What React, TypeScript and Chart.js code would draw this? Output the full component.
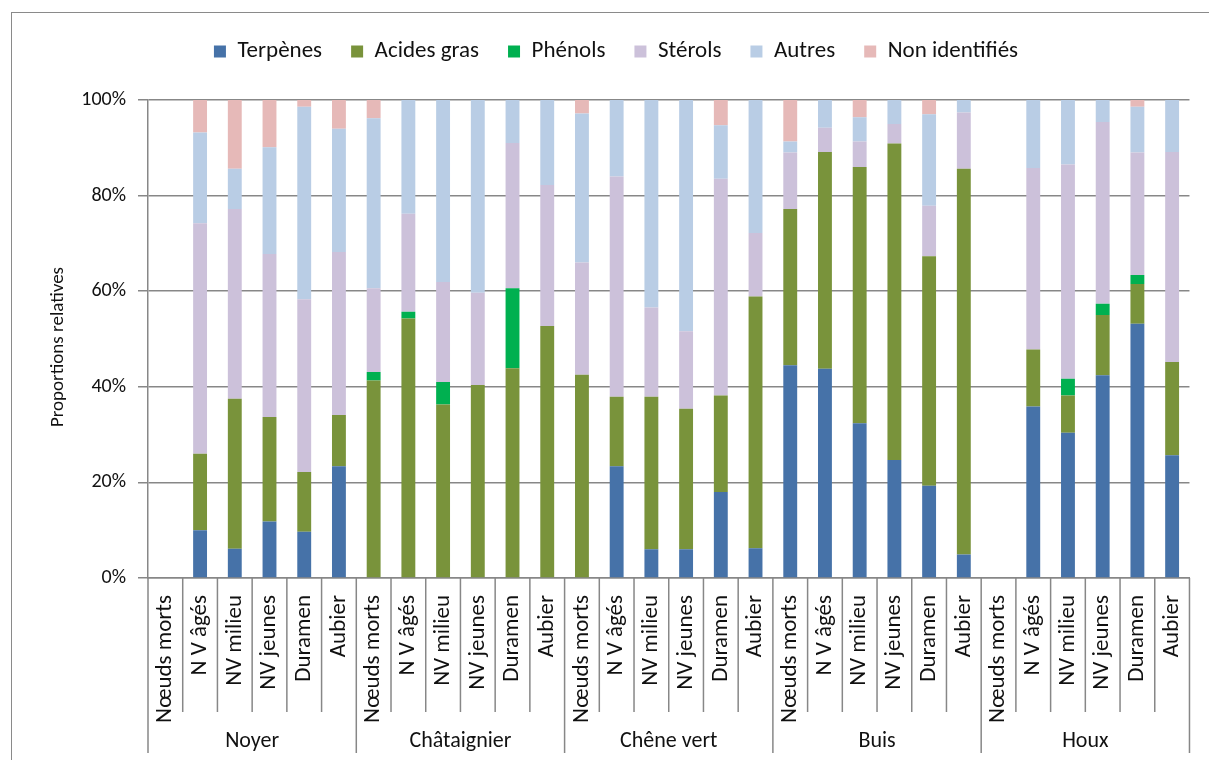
import React, { useEffect, useRef } from "react";
import { Chart, registerables } from "chart.js";

Chart.register(...registerables);

const groups = ["Noyer", "Châtaignier", "Chêne vert", "Buis", "Houx"];
const zones = ["Nœuds morts", "N V âgés", "NV milieu", "NV jeunes", "Duramen", "Aubier"];

const terpenes = [0, 10, 6.1, 11.8, 9.7, 23.4, 0, 0, 0, 0, 0, 0, 0, 23.4, 6.0, 6.0, 18.0, 6.2, 44.5, 43.8, 32.4, 24.7, 19.3, 4.9, 0, 35.9, 30.4, 42.4, 53.2, 25.7];
const acidesGras = [0, 16, 31.4, 21.9, 12.5, 10.7, 41.3, 54.3, 36.3, 40.4, 43.9, 52.7, 42.5, 14.5, 31.9, 29.4, 20.2, 52.7, 32.7, 45.3, 53.6, 66.2, 48.0, 80.7, 0, 11.9, 7.8, 12.6, 8.3, 19.5];
const phenols = [0, 0, 0, 0, 0, 0, 1.8, 1.4, 4.7, 0, 16.7, 0, 0, 0, 0, 0, 0, 0, 0, 0, 0, 0, 0, 0, 0, 0, 3.5, 2.4, 1.9, 0];
const sterols = [0, 48.2, 39.7, 34.1, 36.1, 34.1, 17.5, 20.5, 20.9, 19.3, 30.4, 29.5, 23.5, 46.1, 18.7, 16.2, 45.3, 13.3, 11.8, 5.1, 5.3, 4.1, 10.6, 11.8, 0, 38.0, 44.8, 38.0, 25.6, 43.9];
const autres = [0, 19, 8.4, 22.3, 40.3, 25.8, 35.6, 23.8, 38.1, 40.3, 9.0, 17.8, 31.2, 16.0, 43.4, 48.4, 11.2, 27.8, 2.3, 5.8, 5.1, 5.0, 19.1, 2.6, 0, 14.2, 13.5, 4.6, 9.6, 10.9];
const nonIdentifies = [0, 6.8, 14.4, 9.9, 1.4, 6, 3.8, 0, 0, 0, 0, 0, 2.8, 0, 0, 0, 5.3, 0, 8.7, 0, 3.6, 0, 3.0, 0, 0, 0, 0, 0, 1.4, 0];

const seriesNames = ["Terpènes", "Acides gras", "Phénols", "Stérols", "Autres", "Non identifiés"];
const seriesColors = ["#4672A8", "#79933B", "#00B050", "#CCC1DA", "#B9CDE5", "#E6B9B8"];
const yTicks = [0, 20, 40, 60, 80, 100];
const yTitle = "Proportions relatives";

const FONT = "Carlito, Lato, 'Open Sans', sans-serif";
const AXIS_GRAY = "#878787";

const labels: string[] = [];
groups.forEach(() => zones.forEach((z) => labels.push(z)));

const legendSpacing = {
  id: "legendSpacing",
  beforeInit(chart: any) {
    const legend = chart.legend;
    if (!legend) return;
    const origFit = legend.fit;
    legend.fit = function () {
      origFit.bind(legend)();
      this.height += 27;
    };
  },
};

const groupAxisPlugin = {
  id: "groupAxis",
  afterDraw(chart: any) {
    const { ctx, chartArea, scales } = chart;
    const x = scales.x;
    const n = labels.length;
    const step = (chartArea.right - chartArea.left) / n;
    ctx.save();
    ctx.strokeStyle = AXIS_GRAY;
    ctx.lineWidth = 1.5;
    for (let i = 0; i <= n; i++) {
      let px;
      if (i === 0) px = chartArea.left;
      else if (i === n) px = chartArea.right;
      else px = (x.getPixelForValue(i - 1) + x.getPixelForValue(i)) / 2;
      const isGroup = i % zones.length === 0;
      ctx.beginPath();
      ctx.moveTo(px, chartArea.bottom);
      ctx.lineTo(px, chartArea.bottom + (isGroup ? 175 : 134));
      ctx.stroke();
    }
    ctx.fillStyle = "#111";
    ctx.font = `22px ${FONT}`;
    ctx.textAlign = "center";
    ctx.textBaseline = "middle";
    groups.forEach((g, gi) => {
      const cx = chartArea.left + step * (gi * zones.length + zones.length / 2);
      ctx.fillText(g, cx, chartArea.bottom + 163);
    });
    // y axis title
    ctx.save();
    ctx.translate(58, (chartArea.top + chartArea.bottom) / 2 + 8);
    ctx.rotate(-Math.PI / 2);
    ctx.font = `19px ${FONT}`;
    ctx.fillText(yTitle, 0, 0);
    ctx.restore();
    ctx.restore();
  },
};

export default function App() {
  const canvasRef = useRef<HTMLCanvasElement | null>(null);

  useEffect(() => {
    if (!canvasRef.current) return;
    const values = [terpenes, acidesGras, phenols, sterols, autres, nonIdentifies];
    const chart = new Chart(canvasRef.current, {
      type: "bar",
      data: {
        labels,
        datasets: seriesNames.map((name, i) => ({
          label: name,
          data: values[i],
          backgroundColor: seriesColors[i],
          borderWidth: 0,
          barPercentage: 0.8,
          categoryPercentage: 0.5,
        })),
      },
      options: {
        animation: false,
        responsive: false,
        devicePixelRatio: 1,
        layout: { padding: { top: 11, right: 17, left: 40, bottom: 0 } },
        plugins: {
          legend: {
            position: "top",
            labels: {
              font: { family: FONT, size: 23 },
              color: "#111",
              boxWidth: 12,
              boxHeight: 12,
              padding: 29,
            },
          },
          tooltip: { enabled: false },
        },
        scales: {
          x: {
            stacked: true,
            grid: { display: false },
            border: { display: true, color: AXIS_GRAY, width: 1.5 },
            ticks: {
              autoSkip: false,
              minRotation: 90,
              maxRotation: 90,
              padding: 9,
              color: "#111",
              font: { family: FONT, size: 23 },
            },
            afterFit(scale: any) {
              scale.height = 182;
            },
          },
          y: {
            stacked: true,
            min: 0,
            max: 100,
            afterBuildTicks(scale: any) {
              scale.ticks = yTicks.map((v) => ({ value: v }));
            },
            grid: {
              color: AXIS_GRAY,
              lineWidth: 1.5,
              tickLength: 10,
            },
            border: { display: true, color: AXIS_GRAY, width: 1.5 },
            ticks: {
              padding: 12,
              color: "#111",
              font: { family: FONT, size: 20 },
              callback: (v: any) => `${v}%`,
            },
            afterFit(scale: any) {
              scale.width = 108;
            },
          },
        },
      },
      plugins: [legendSpacing, groupAxisPlugin],
    });
    return () => chart.destroy();
  }, []);

  return (
    <div style={{ position: "fixed", left: 0, top: 0, width: 1209, height: 760, overflow: "hidden", background: "#fff" }}>
      <div
        style={{
          position: "absolute",
          left: 11,
          top: 12,
          width: 1300,
          height: 900,
          border: "1.5px solid #8a8a8a",
        }}
      />
      <canvas ref={canvasRef} width={1209} height={760} style={{ position: "absolute", left: 0, top: 0 }} />
    </div>
  );
}
